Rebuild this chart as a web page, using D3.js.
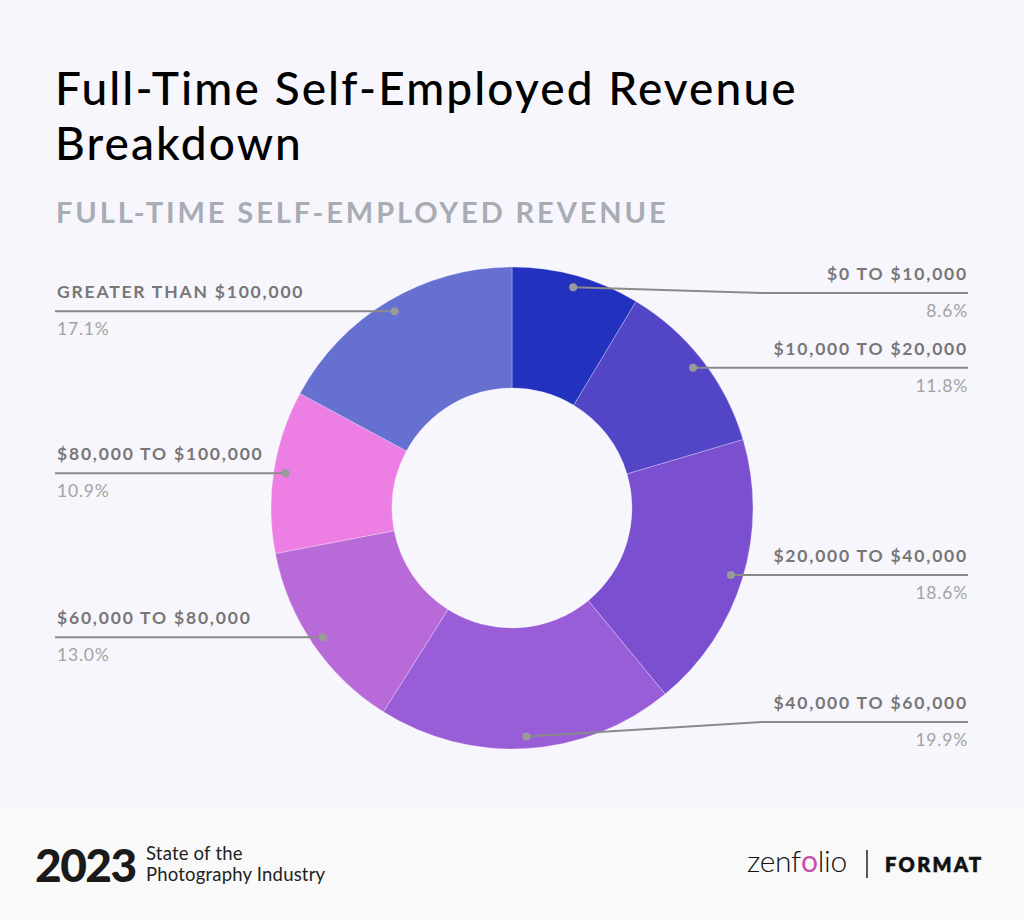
<!DOCTYPE html>
<html>
<head>
<meta charset="utf-8">
<script src="https://cdn.jsdelivr.net/npm/d3@7"></script>
<style>
  html, body { margin: 0; padding: 0; background: #F7F6FC; }
  svg { display: block; }
</style>
</head>
<body>
<svg id="chart" width="1024" height="920"></svg>
<script>
const categories = ["$0 TO $10,000", "$10,000 TO $20,000", "$20,000 TO $40,000", "$40,000 TO $60,000", "$60,000 TO $80,000", "$80,000 TO $100,000", "GREATER THAN $100,000"];
const values = [8.6, 11.8, 18.6, 19.9, 13.0, 10.9, 17.1];
const colors = ["#2231BE", "#5245C6", "#7A50D0", "#9A5DD8", "#B86AD9", "#EC7EE4", "#6570D1"];
// label placement: side and label line y
const labelSide = ["right", "right", "right", "right", "left", "left", "left"];
const labelLineY = [293, 368, 576, 722, 636, 473, 311];

const svg = d3.select("#chart");
const W = 1024, H = 920;
const font = "Lato, 'Noto Sans', sans-serif";

svg.append("rect").attr("width", W).attr("height", H).attr("fill", "#F7F6FC");
svg.append("rect").attr("x", 0).attr("y", 810).attr("width", W).attr("height", 110).attr("fill", "#F9F9F9");

// Title
svg.append("text").attr("x", 55).attr("y", 105).attr("font-family", font).attr("font-size", 46)
  .attr("fill", "#000").attr("font-weight", 500).attr("letter-spacing", 2.1)
  .text("Full-Time Self-Employed Revenue");
svg.append("text").attr("x", 55).attr("y", 160).attr("font-family", font).attr("font-size", 46)
  .attr("fill", "#000").attr("font-weight", 500).attr("letter-spacing", 2.1)
  .text("Breakdown");

svg.append("text").attr("x", 56).attr("y", 223).attr("font-family", font).attr("font-size", 29)
  .attr("font-weight", 700).attr("fill", "#A8ACB4").attr("letter-spacing", 2.9)
  .text("FULL-TIME SELF-EMPLOYED REVENUE");

// Donut
const cx = 512, cy = 508, rOuter = 241, rInner = 120, rDot = 229;
const pie = d3.pie().sort(null).value(d => d);
const arcs = pie(values);
const arc = d3.arc().innerRadius(rInner).outerRadius(rOuter);
const g = svg.append("g").attr("transform", `translate(${cx},${cy})`);
g.selectAll("path").data(arcs).join("path")
  .attr("d", arc).attr("fill", (d, i) => colors[i])
  .attr("stroke", "#F7F6FC").attr("stroke-width", 0.3);

const dotArc = d3.arc().innerRadius(rDot).outerRadius(rDot);
const lineColor = "#8A8A8A";
const leftX = 55, rightX = 968;

arcs.forEach((a, i) => {
  const [dx, dy] = dotArc.centroid(a);
  const px = cx + dx, py = cy + dy;
  const ly = labelLineY[i];
  const side = labelSide[i];
  const endX = side === "right" ? rightX : leftX;
  let pts;
  if (Math.abs(py - ly) < 3) {
    pts = [[px, py], [endX, py]];
  } else {
    const elbowX = side === "right" ? 762 : 300;
    pts = [[px, py], [elbowX, ly], [endX, ly]];
  }
  svg.append("path").attr("d", d3.line()(pts)).attr("fill", "none")
    .attr("stroke", lineColor).attr("stroke-width", 2);
  svg.append("circle").attr("cx", px).attr("cy", py).attr("r", 4).attr("fill", "#9A9A9A");
  const lineY = pts[pts.length - 1][1];
  const anchor = side === "right" ? "end" : "start";
  svg.append("text").attr("x", endX + (side === "right" ? 0 : 2)).attr("y", lineY - 13)
    .attr("text-anchor", anchor).attr("font-family", font).attr("font-size", 17.5)
    .attr("font-weight", 700).attr("fill", "#777777").attr("letter-spacing", 1.8)
    .text(categories[i]);
  svg.append("text").attr("x", endX + (side === "right" ? 0 : 2)).attr("y", lineY + 24)
    .attr("text-anchor", anchor).attr("font-family", font).attr("font-size", 17.5)
    .attr("fill", "#A3A3A3").attr("letter-spacing", 0.8)
    .text(values[i].toFixed(1) + "%");
});

// Footer
svg.append("text").attr("x", 35).attr("y", 882).attr("font-family", font).attr("font-size", 46)
  .attr("font-weight", 900).attr("fill", "#1A1A1A").attr("letter-spacing", -1.5).text("2023");
const sub = svg.append("text").attr("font-family", font).attr("font-size", 18.5).attr("fill", "#222").attr("letter-spacing", 0.2);
sub.append("tspan").attr("x", 146).attr("y", 860).text("State of the");
sub.append("tspan").attr("x", 146).attr("y", 881).text("Photography Industry");

// zenfolio logo
const zen = svg.append("text").attr("x", 747).attr("y", 872).attr("font-family", font).attr("font-size", 30)
  .attr("font-weight", 300).attr("fill", "#111").attr("letter-spacing", -0.3);
zen.append("tspan").text("zenf");
zen.append("tspan").attr("fill", "#C94FA8").attr("font-weight", 400).text("o");
zen.append("tspan").text("lio");
svg.append("line").attr("x1", 867).attr("x2", 867).attr("y1", 850).attr("y2", 878).attr("stroke", "#222").attr("stroke-width", 1.5);
svg.append("text").attr("x", 885).attr("y", 872).attr("font-family", font).attr("font-size", 20)
  .attr("font-weight", 900).attr("fill", "#111").attr("stroke", "#111").attr("stroke-width", 0.7)
  .attr("letter-spacing", 2.4).text("FORMAT");
</script>
</body>
</html>
